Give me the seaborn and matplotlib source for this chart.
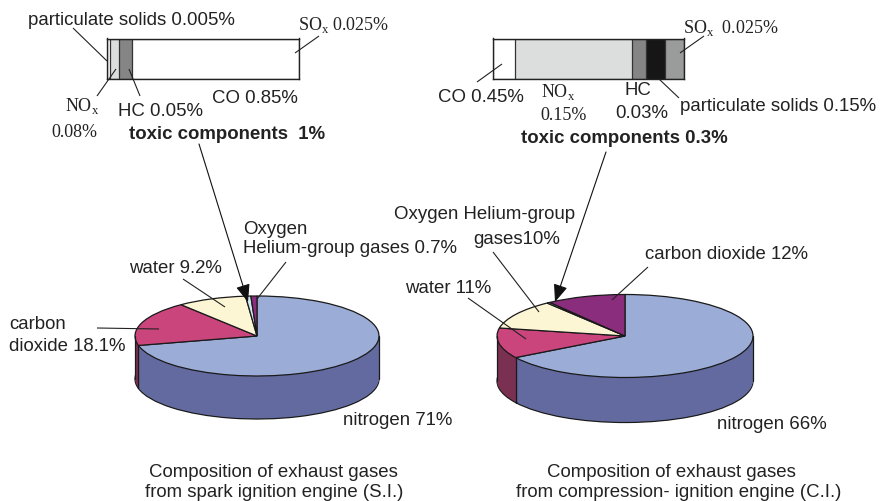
import numpy as np
import pandas as pd
import matplotlib
matplotlib.use("Agg")
import matplotlib.pyplot as plt
import seaborn as sns

sns.set_theme(style="white")
plt.rcParams["font.family"] = ["Liberation Sans", "DejaVu Sans"]
plt.rcParams["mathtext.fontset"] = "custom"
plt.rcParams["mathtext.rm"] = "Liberation Serif"

# stacked bars, shares (left to right)
bar_si_parts = ["particulate", "NOx", "HC", "CO"]
bar_si_values = [0.015, 0.049, 0.068, 0.868]
bar_si_colors = ["#ffffff", "#dcdedd", "#858585", "#ffffff"]

bar_ci_parts = ["CO", "NOx", "HC", "particulate", "SOx"]
bar_ci_values = [0.035, 0.184, 0.021, 0.031, 0.029]
bar_ci_colors = ["#ffffff", "#dcdedd", "#858585", "#161616", "#9a9c9b"]

# pies, clockwise from twelve o'clock
pie_si_values = [71.2, 18.1, 9.2, 0.7, 0.8]
pie_ci_values = [66.3, 11.8, 11.5, 0.4, 10.0]
pie_top_colors = ["#9badd6", "#cb457d", "#fcf6d4", "#cdebee", "#8a2d7d"]
pie_side_colors = ["#636a9f", "#7a3050", "#8a8570", "#8a9a9c", "#5a2055"]

W, H = 881, 502
fig = plt.figure(figsize=(W / 100, H / 100), dpi=100)
bg = fig.add_axes([0, 0, 1, 1])
bg.set_xlim(0, W)
bg.set_ylim(H, 0)
bg.axis("off")


def px_axes(x0, y0, x1, y1, zorder=1):
    ax = fig.add_axes([x0 / W, 1 - y1 / H, (x1 - x0) / W, (y1 - y0) / H], zorder=zorder)
    ax.patch.set_alpha(0)
    return ax


def stacked_bar(box, values, colors):
    ax = px_axes(*box)
    cum = np.cumsum(values)
    # longest first, shorter ones on top
    for i in range(len(values) - 1, -1, -1):
        df = pd.DataFrame({"v": [cum[i]], "c": ["a"]})
        sns.barplot(data=df, x="v", y="c", orient="h", color=colors[i], saturation=1,
                    width=1, edgecolor="#333333", linewidth=0.9, ax=ax)
    ax.set_xlim(0, cum[-1])
    ax.set_ylim(0.5, -0.5)
    ax.set_xlabel("")
    ax.set_ylabel("")
    ax.set_xticks([])
    ax.set_yticks([])
    for s in ax.spines.values():
        s.set_visible(True)
        s.set_color("#222222")
        s.set_linewidth(1.0)


def pie_3d(cx, cy, rx, ry, depth, values):
    ax = px_axes(cx - rx - 2, cy - ry - 2, cx + rx + 2, cy + ry + depth + 2)
    scale = ry / rx
    # wall: the same pie repeated downward, then the lid
    y_c = -cy / scale
    for d in np.arange(depth, 0, -1.0):
        lw = 0.9 if d == depth else 0
        ec = "#1a1a1a" if d == depth else "none"
        ax.pie(values, colors=pie_side_colors, startangle=90, counterclock=False, radius=rx,
               center=(cx, y_c - d / scale), frame=True,
               wedgeprops={"linewidth": lw, "edgecolor": ec})
    ax.pie(values, colors=pie_top_colors, startangle=90, counterclock=False, radius=rx,
           center=(cx, y_c), frame=True, wedgeprops={"linewidth": 0.9, "edgecolor": "#1a1a1a"})
    ax.set_aspect("auto")
    ax.set_xlim(cx - rx - 2, cx + rx + 2)
    ax.set_ylim((-(cy + ry + depth + 2)) / scale, (-(cy - ry - 2)) / scale)
    ax.axis("off")
    # vertical edges of the wall at the front slice joins and the rim
    ang = 90 - np.cumsum(values) * 3.6
    for a in list(ang):
        sx, sy = np.cos(np.radians(a)), np.sin(np.radians(a))
        if sy < 0:
            ax.plot([cx + rx * sx] * 2, [y_c + rx * sy, y_c + rx * sy - depth / scale],
                    color="#1a1a1a", lw=0.9)
    for sx in (-1, 1):
        ax.plot([cx + rx * sx] * 2, [y_c, y_c - depth / scale], color="#1a1a1a", lw=0.9)


stacked_bar((107, 39.5, 298.5, 79.5), bar_si_values, bar_si_colors)
stacked_bar((492.5, 39.5, 684, 79.5), bar_ci_values, bar_ci_colors)
pie_3d(257, 337, 122, 40, 43, pie_si_values)
pie_3d(625, 337, 128, 41.5, 45, pie_ci_values)

top = px_axes(0, 0, W, H, zorder=5)
top.set_xlim(0, W)
top.set_ylim(H, 0)
top.axis("off")

# leader lines
leaders = [
    (73, 29, 107, 62), (319, 37, 295, 54), (97, 97, 116, 70), (140, 97, 129, 70),
    (183, 280, 225, 308), (97, 329, 159, 330), (286, 263, 257, 300),
    (477, 83, 502, 65), (704, 37, 680, 54), (679, 99, 659, 80),
    (493, 253, 539, 313), (468, 299, 526, 340), (648, 268, 612, 301),
]
for x0, y0, x1, y1 in leaders:
    top.plot([x0, x1], [y0, y1], color="#222222", lw=0.8, solid_capstyle="butt")

for x0, y0, x1, y1 in [(199, 145, 248, 303), (606, 153, 555, 303)]:
    top.annotate("", xy=(x1, y1), xytext=(x0, y0),
                 arrowprops=dict(arrowstyle="-|>,head_length=0.9,head_width=0.36",
                                 color="#111111", lw=0.8, shrinkA=0, shrinkB=0))

sans = 13.4
serif = 13.0
tc = "#222222"


def lab(x, y, s, size=sans, **kw):
    kw.setdefault("va", "center")
    kw.setdefault("ha", "left")
    top.text(x, y + 1.5, s, fontsize=size, color=tc, **kw)


def ser(x, y, s):
    top.text(x, y + 1, s, fontsize=serif, color=tc, family="Liberation Serif", va="center", ha="left")


lab(28, 19, "particulate solids 0.005%")
ser(298, 24, r"SO$_{\mathrm{x}}$ 0.025%")
ser(65, 105, r"NO$_{\mathrm{x}}$")
ser(51, 132, "0.08%")
lab(118, 110, "HC 0.05%")
lab(212, 97, "CO 0.85%")
lab(129, 133, "toxic components  1%", fontweight="bold")

ser(683, 27, r"SO$_{\mathrm{x}}$  0.025%")
lab(438, 96, "CO 0.45%")
ser(541, 91, r"NO$_{\mathrm{x}}$")
ser(540, 114, "0.15%")
lab(625, 89, "HC")
lab(615, 112, "0.03%")
lab(680, 105, "particulate solids 0.15%")
lab(521, 137, "toxic components 0.3%", fontweight="bold")

lab(243, 228, "Oxygen")
lab(243, 247, "Helium-group gases 0.7%")
lab(129, 267, "water 9.2%")
lab(9, 323, "carbon")
lab(9, 345, "dioxide 18.1%")
lab(343, 419, "nitrogen 71%")

lab(394, 213, "Oxygen Helium-group")
lab(473, 238, "gases10%")
lab(405, 287, "water 11%")
lab(645, 253, "carbon dioxide 12%")
lab(717, 423, "nitrogen 66%")

lab(273, 471, "Composition of exhaust gases", ha="center")
lab(274, 491, "from spark ignition engine (S.I.)", ha="center")
lab(671, 471, "Composition of exhaust gases", ha="center")
lab(679, 491, "from compression- ignition engine (C.I.)", ha="center")

fig.savefig("out.png", dpi=100)
